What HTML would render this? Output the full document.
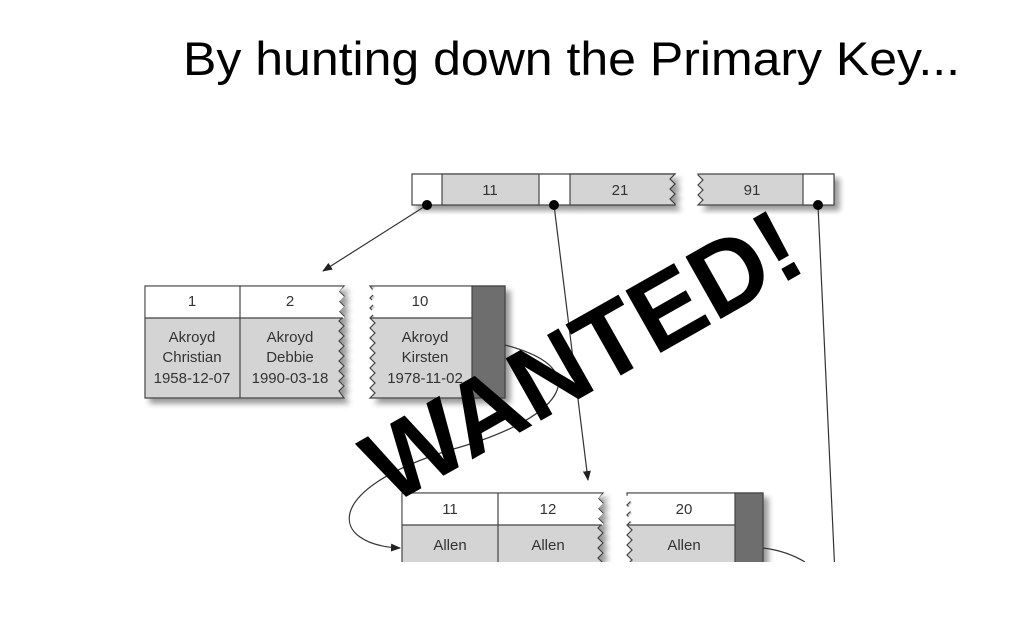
<!DOCTYPE html>
<html><head><meta charset="utf-8"><style>
html,body{margin:0;padding:0;background:#fff;}
svg{display:block}
text{font-family:"Liberation Sans",sans-serif;}
.c{font-family:"Liberation Sans Narrow","Liberation Sans",sans-serif;font-size:15px;fill:#333;text-anchor:middle}
</style></head><body>
<svg width="1031" height="620" viewBox="0 0 1031 620" xmlns="http://www.w3.org/2000/svg">
<defs>
<filter id="sh" x="-10%" y="-10%" width="130%" height="140%"><feGaussianBlur in="SourceAlpha" stdDeviation="3"/><feOffset dx="5" dy="5"/><feComponentTransfer><feFuncA type="linear" slope="0.4"/></feComponentTransfer><feMerge><feMergeNode/><feMergeNode in="SourceGraphic"/></feMerge></filter>
<marker id="ar" markerWidth="10" markerHeight="8" refX="9" refY="4" orient="auto" markerUnits="userSpaceOnUse"><path d="M0,0 L10,4 L0,8 z" fill="#222"/></marker>
</defs>
<text x="183" y="75" font-size="47" fill="#000" textLength="777" lengthAdjust="spacingAndGlyphs">By hunting down the Primary Key...</text>

<g filter="url(#sh)" stroke="#444" stroke-width="1.2">
<path d="M412,174 H675 l-5,5 5,5 -5,5 5,5 -5,5 5,5 V205 H412 Z" fill="#fff"/>
<rect x="442" y="174" width="97" height="31" fill="#d4d4d4"/>
<path d="M570,174 H675 l-5,5 5,5 -5,5 5,5 -5,5 5,5 V205 H570 Z" fill="#d4d4d4"/>
<path d="M698,174 H834 V205 H698 l5,-5 -5,-5 5,-5 -5,-5 5,-5 -5,-5 Z" fill="#d4d4d4"/>
<rect x="803" y="174" width="31" height="31" fill="#fff"/>
</g>
<text class="c" x="490" y="195">11</text>
<text class="c" x="620" y="195">21</text>
<text class="c" x="752" y="195">91</text>

<g filter="url(#sh)" stroke="#444" stroke-width="1.2">
<path d="M145,286 H344 l-5,5 5,5 -5,5 5,5 -5,5 5,5 -5,5 5,5 -5,5 5,5 -5,5 5,5 -5,5 5,5 -5,5 5,5 -5,5 5,5 -5,5 5,5 -5,5 5,7 V398 H145 Z" fill="#d4d4d4"/>
<path d="M370,286 H505 V398 H370 l5,-5 -5,-5 5,-5 -5,-5 5,-5 -5,-5 5,-5 -5,-5 5,-5 -5,-5 5,-5 -5,-5 5,-5 -5,-5 5,-5 -5,-5 5,-5 -5,-5 5,-5 -5,-5 5,-5 -5,-7 Z" fill="#d4d4d4"/>
</g>
<g stroke="#444" stroke-width="1.2">
<path d="M145.6,286.6 H343 l-4,5 5,5 -5,5 5,5 -5,5 5,5 V318 H145.6 Z" fill="#fff" stroke="none"/>
<path d="M371,286.6 H472 V318 H371 l4,-1 -5,-5 5,-5 -5,-5 5,-5 -5,-5 5,-5 Z" fill="#fff" stroke="none"/>
<line x1="145" y1="318" x2="343" y2="318"/>
<line x1="371" y1="318" x2="472" y2="318"/>
<line x1="240" y1="286" x2="240" y2="398"/>
<rect x="472" y="286" width="33" height="112" fill="#6e6e6e"/>
</g>
<text class="c" x="192" y="306">1</text><text class="c" x="290" y="306">2</text><text class="c" x="420" y="306">10</text>
<text class="c" x="192" y="342">Akroyd</text><text class="c" x="192" y="362">Christian</text><text class="c" x="192" y="383">1958-12-07</text>
<text class="c" x="290" y="342">Akroyd</text><text class="c" x="290" y="362">Debbie</text><text class="c" x="290" y="383">1990-03-18</text>
<text class="c" x="425" y="342">Akroyd</text><text class="c" x="425" y="362">Kirsten</text><text class="c" x="425" y="383">1978-11-02</text>

<g filter="url(#sh)" stroke="#444" stroke-width="1.2">
<path d="M402,493 H603 l-5,5 5,5 -5,5 5,5 -5,5 5,5 -5,5 5,5 -5,5 5,5 -5,5 5,5 -5,5 5,5 -5,5 5,5 V575 H402 Z" fill="#d4d4d4"/>
<path d="M627,493 H763 V575 H627 l5,-5 -5,-5 5,-5 -5,-5 5,-5 -5,-5 5,-5 -5,-5 5,-5 -5,-5 5,-5 -5,-5 5,-5 -5,-5 5,-5 -5,-5 Z" fill="#d4d4d4"/>
</g>
<g stroke="#444" stroke-width="1.2">
<path d="M402.6,493.6 H602 l-4,5 5,5 -5,5 5,5 -5,5 5,5 V525 H402.6 Z" fill="#fff" stroke="none"/>
<path d="M628,493.6 H735 V525 H628 l4,-2 -5,-5 5,-5 -5,-5 5,-5 -5,-5 Z" fill="#fff" stroke="none"/>
<line x1="402" y1="525" x2="602" y2="525"/>
<line x1="628" y1="525" x2="735" y2="525"/>
<line x1="498" y1="493" x2="498" y2="575"/>
<rect x="735" y="493" width="28" height="82" fill="#6e6e6e"/>
</g>
<text class="c" x="450" y="514">11</text><text class="c" x="548" y="514">12</text><text class="c" x="684" y="514">20</text>
<text class="c" x="450" y="550">Allen</text><text class="c" x="548" y="550">Allen</text><text class="c" x="684" y="550">Allen</text>

<g stroke="#333" stroke-width="1.2" fill="none">
<line x1="427" y1="205" x2="323" y2="271" marker-end="url(#ar)"/>
<line x1="554" y1="205" x2="588" y2="480" marker-end="url(#ar)"/>
<line x1="818" y1="205" x2="835" y2="575"/>
<path d="M505,345 C600,370 560,420 450,450 C320,490 330,545 400,548" marker-end="url(#ar)"/>
<path d="M763,548 C780,550 795,556 805,562"/>
</g>
<g fill="#000"><circle cx="427" cy="205" r="5"/><circle cx="554" cy="205" r="5"/><circle cx="818" cy="205" r="5"/></g>

<rect x="0" y="562" width="1031" height="58" fill="#fff"/>

<text x="0" y="0" font-size="104" font-weight="bold" fill="#000" transform="translate(390,506) rotate(-29.5)" textLength="482" lengthAdjust="spacingAndGlyphs">WANTED!</text>
</svg>
</body></html>
